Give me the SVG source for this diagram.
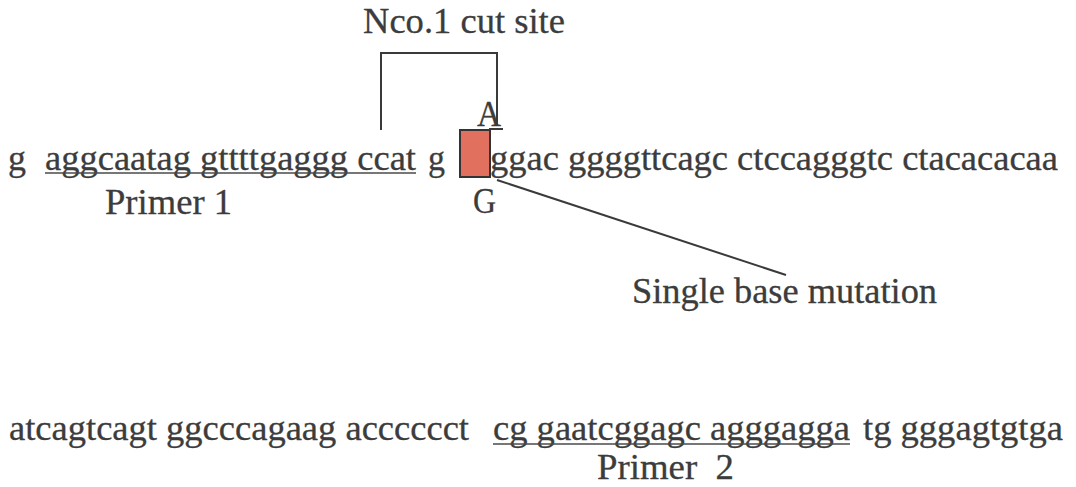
<svg xmlns="http://www.w3.org/2000/svg" width="1076" height="487" viewBox="0 0 1076 487">
  <style>
    .t { font-family: "Liberation Serif", "Times New Roman", Tinos, serif; font-size: 35px; fill: #3c3c3c; stroke: #3c3c3c; stroke-width: 0.3px; }
    .pre { white-space: pre; }
    .ln { stroke: #3a3a3a; stroke-width: 2; fill: none; }
    .ul { stroke: #4a4a4a; stroke-width: 1.6; fill: none; }
    .mut { fill: #e2705f; stroke: #333333; stroke-width: 2; }
  </style>
  <rect width="1076" height="487" fill="#ffffff"/>

  <!-- restriction site label -->
  <g id="nco-label">
    <text class="t" x="363" y="33" textLength="202" lengthAdjust="spacingAndGlyphs">Nco.1 cut site</text>
  </g>

  <!-- upper sequence line -->
  <g id="seq-upper">
    <text class="t" x="8" y="170" textLength="18" lengthAdjust="spacingAndGlyphs">g</text>
    <text class="t" x="45" y="170" textLength="371" lengthAdjust="spacingAndGlyphs">aggcaatag gttttgaggg ccat</text>
    <line class="ul" x1="45" y1="173" x2="416" y2="173"/>
    <text class="t" x="428" y="170" textLength="17" lengthAdjust="spacingAndGlyphs">g</text>
    <text class="t" x="490" y="170" textLength="568" lengthAdjust="spacingAndGlyphs">ggac ggggttcagc ctccagggtc ctacacacaa</text>
  </g>

  <g id="primer1-label">
    <text class="t" x="105" y="214" textLength="127" lengthAdjust="spacingAndGlyphs">Primer 1</text>
  </g>

  <!-- mutated base: A above, G below -->
  <g id="mutation-site">
    <text class="t" x="477" y="126" textLength="24" lengthAdjust="spacingAndGlyphs">A</text>
    <rect class="mut" x="460" y="130" width="30" height="47"/>
    <text class="t" x="473" y="213" textLength="23" lengthAdjust="spacingAndGlyphs">G</text>
  </g>

  <g id="mutation-label">
    <text class="t" x="632" y="303" textLength="305" lengthAdjust="spacingAndGlyphs">Single base mutation</text>
  </g>

  <!-- lower sequence line -->
  <g id="seq-lower">
    <text class="t" x="9" y="440" textLength="460" lengthAdjust="spacingAndGlyphs">atcagtcagt ggcccagaag acccccct</text>
    <text class="t" x="493" y="440" textLength="357" lengthAdjust="spacingAndGlyphs">cg gaatcggagc agggagga</text>
    <line class="ul" x1="493" y1="444" x2="850" y2="444"/>
    <text class="t" x="863" y="440" textLength="200" lengthAdjust="spacingAndGlyphs">tg gggagtgtga</text>
  </g>

  <g id="primer2-label">
    <text class="t pre" x="597" y="479" textLength="137" lengthAdjust="spacingAndGlyphs">Primer  2</text>
  </g>

  <!-- connectors -->
  <g id="connectors">
    <polyline class="ln" points="381,130 381,53 497,53 497,126"/>
    <line class="ln" x1="489" y1="129" x2="503" y2="129"/>
    <line class="ln" x1="497" y1="180" x2="786" y2="275"/>
  </g>
</svg>
